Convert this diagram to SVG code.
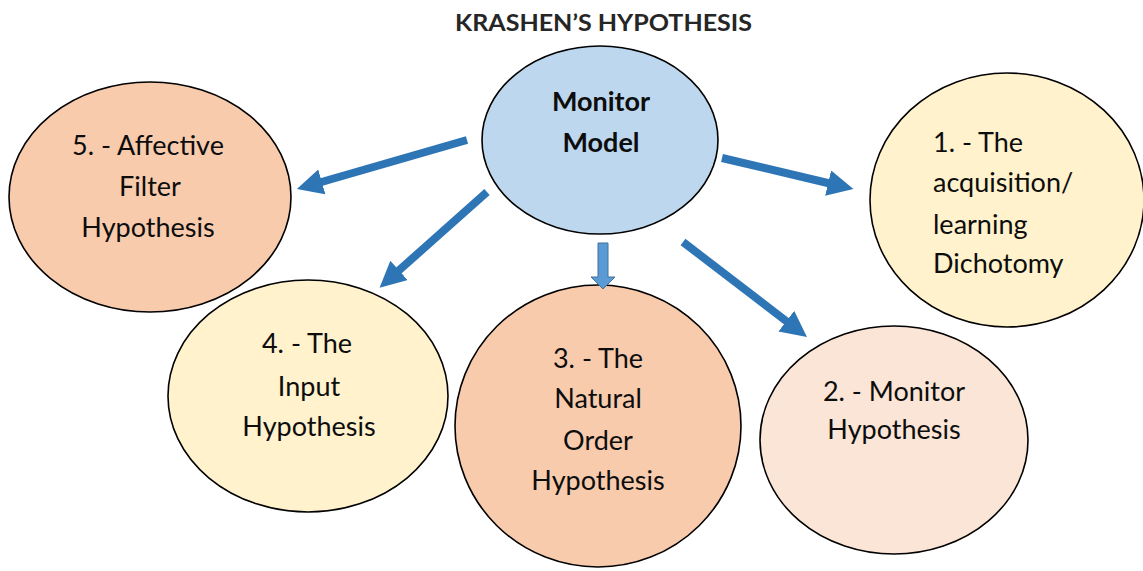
<svg xmlns="http://www.w3.org/2000/svg" width="1143" height="571" viewBox="0 0 1143 571">
  <style>
    .node ellipse { stroke: #000; stroke-width: 1.6; }
    .lbl { font-family: Lato, "Open Sans", "Liberation Sans", sans-serif; font-size: 27px; fill: #0d0d0d; text-anchor: middle; }
    .left { text-anchor: start; }
    .bold { font-weight: bold; }
    .title { font-family: Lato, "Open Sans", "Liberation Sans", sans-serif; font-size: 22px; font-weight: bold; fill: #262626; }
    .conn line { stroke: #2E75B6; stroke-width: 8; fill: none; marker-end: url(#head); }
  </style>
  <defs>
    <marker id="head" markerUnits="userSpaceOnUse" markerWidth="28" markerHeight="28" refX="4" refY="13" orient="auto">
      <path d="M0,0 L26,13 L0,26 Z" fill="#2E75B6"/>
    </marker>
  </defs>

  <rect width="1143" height="571" fill="#fff"/>

  <text class="title" x="455" y="31" textLength="297" lengthAdjust="spacingAndGlyphs">KRASHEN’S HYPOTHESIS</text>

  <g id="node-monitor-model" class="node">
    <ellipse cx="600" cy="140" rx="118" ry="94" fill="#BDD7EE"/>
    <text class="lbl bold" x="601" y="111">Monitor</text>
    <text class="lbl bold" x="601" y="152">Model</text>
  </g>

  <g id="node-affective-filter" class="node">
    <ellipse cx="150" cy="197" rx="141" ry="115" fill="#F8CBAD"/>
    <text class="lbl" x="148" y="155">5. - Affective</text>
    <text class="lbl" x="150" y="196">Filter</text>
    <text class="lbl" x="148" y="237">Hypothesis</text>
  </g>

  <g id="node-input" class="node">
    <ellipse cx="308" cy="396" rx="140" ry="116" fill="#FFF2CC"/>
    <text class="lbl" x="307" y="353">4. - The</text>
    <text class="lbl" x="309" y="396">Input</text>
    <text class="lbl" x="309" y="436">Hypothesis</text>
  </g>

  <g id="node-natural-order" class="node">
    <ellipse cx="598" cy="426" rx="143" ry="141" fill="#F8CBAD"/>
    <text class="lbl" x="598" y="368">3. - The</text>
    <text class="lbl" x="598" y="408">Natural</text>
    <text class="lbl" x="598" y="450">Order</text>
    <text class="lbl" x="598" y="490">Hypothesis</text>
  </g>

  <g id="node-monitor-hypothesis" class="node">
    <ellipse cx="894" cy="440" rx="134" ry="114" fill="#FBE5D6"/>
    <text class="lbl" x="894" y="401">2. - Monitor</text>
    <text class="lbl" x="894" y="439">Hypothesis</text>
  </g>

  <g id="node-acquisition-learning" class="node">
    <ellipse cx="1007" cy="200" rx="137" ry="127" fill="#FFF2CC"/>
    <text class="lbl left" x="933" y="152">1. - The</text>
    <text class="lbl left" x="933" y="192">acquisition/</text>
    <text class="lbl left" x="933" y="234">learning</text>
    <text class="lbl left" x="933" y="273">Dichotomy</text>
  </g>

  <g id="connectors" class="conn">
    <line x1="467" y1="140" x2="318" y2="183"/>
    <line x1="487" y1="192" x2="396" y2="273"/>
    <line x1="722" y1="158" x2="832" y2="184"/>
    <line x1="683" y1="242" x2="789.5" y2="323.6"/>
    <!-- block arrow down to the natural order node -->
    <polygon points="598,243 608,243 608,277 615,277 603,289 591,277 598,277" fill="#5B9BD5" stroke="#41719C" stroke-width="1"/>
  </g>
</svg>
